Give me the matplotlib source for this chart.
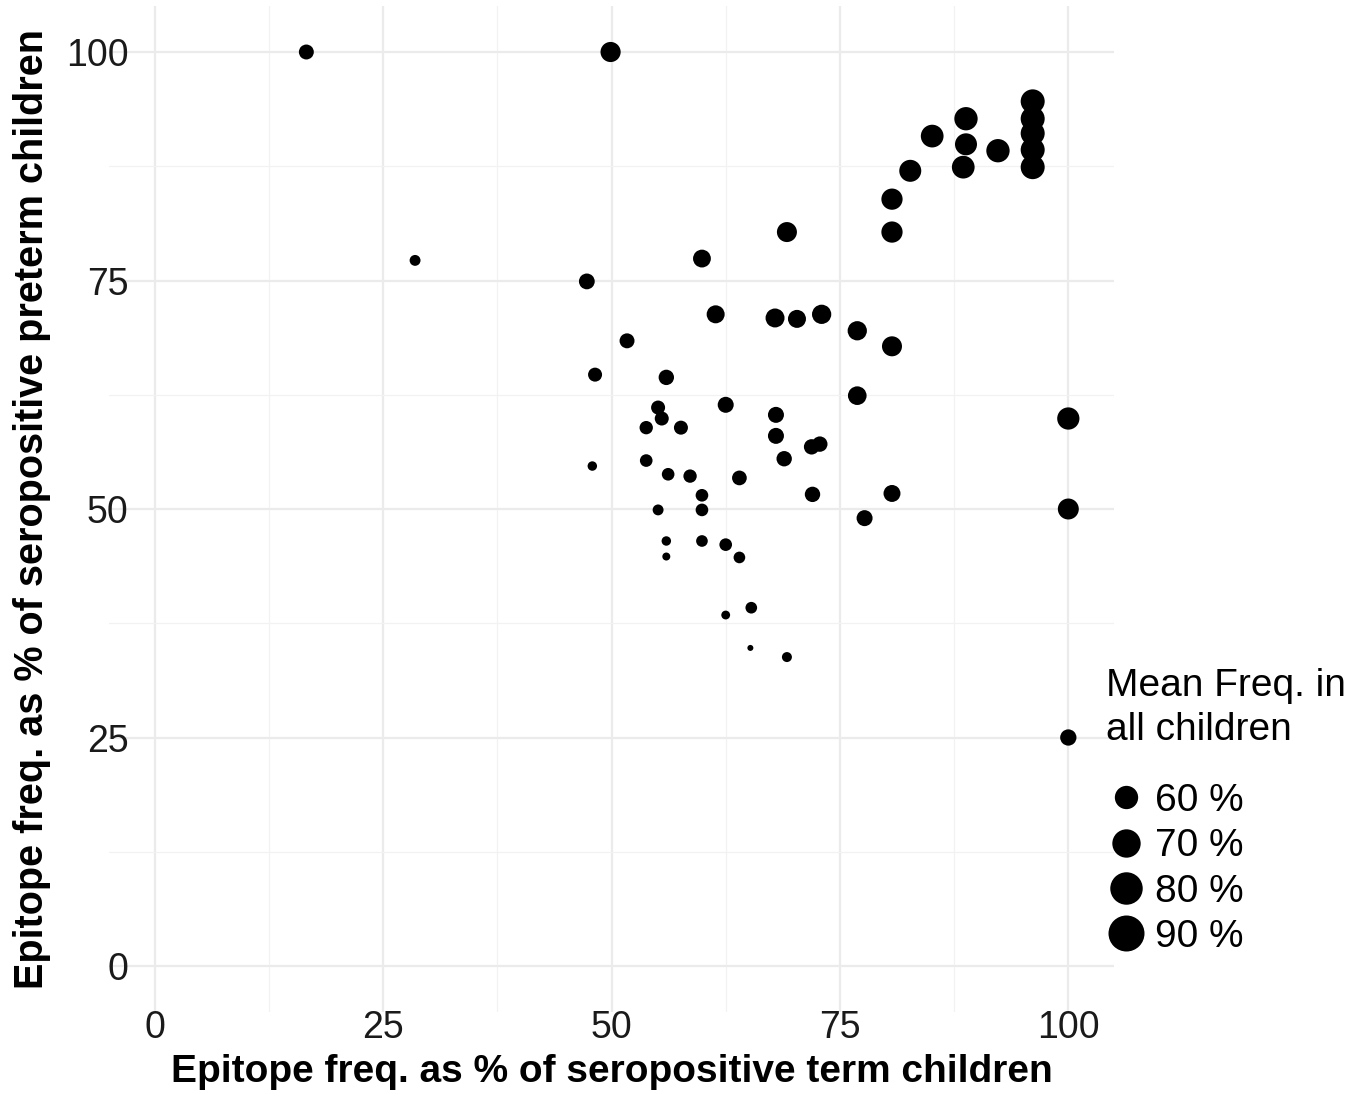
import numpy as np
import matplotlib
matplotlib.use("Agg")
import matplotlib.pyplot as plt
from matplotlib.lines import Line2D

plt.rcParams['font.family'] = ['Liberation Sans', 'DejaVu Sans']

# ---- data ----
term_pct = [16.6, 28.5, 47.3, 49.9, 59.9, 69.2, 100.0, 100.0, 100.0,
            61.4, 51.7, 67.9, 70.3, 73.0, 76.9, 80.7, 48.2, 56.0, 76.9,
            55.1, 55.5, 62.5, 53.8, 57.6, 68.0, 68.0, 71.9, 72.8, 68.9,
            47.9, 53.8, 56.2, 58.6, 64.0, 59.9, 72.0, 80.7, 55.1, 59.9,
            77.7, 56.0, 59.9, 62.5, 64.0, 56.0, 65.3, 62.5, 65.2, 69.2,
            96.1, 96.1, 96.1, 96.1, 96.1, 88.8, 88.8, 88.5, 92.3, 85.1,
            82.7, 80.7, 80.7]
preterm_pct = [100.0, 77.2, 74.9, 100.0, 77.4, 80.3, 59.9, 50.0, 25.0,
               71.3, 68.4, 70.9, 70.8, 71.3, 69.5, 67.8, 64.7, 64.4, 62.4,
               61.1, 59.9, 61.4, 58.9, 58.9, 60.3, 58.0, 56.8, 57.1, 55.5,
               54.7, 55.3, 53.8, 53.6, 53.4, 51.5, 51.6, 51.7, 49.9, 49.9,
               49.0, 46.5, 46.5, 46.1, 44.7, 44.8, 39.2, 38.4, 34.8, 33.8,
               94.6, 92.7, 91.1, 89.3, 87.4, 92.7, 89.9, 87.4, 89.2, 90.8,
               87.0, 83.9, 80.3]
mean_freq = [49.0, 46.2, 49.8, 55.0, 52.0, 54.8, 58.2, 56.2, 50.3,
             52.2, 49.0, 53.4, 52.2, 53.8, 53.8, 54.8, 48.2, 49.4, 53.0,
             48.2, 48.2, 50.0, 47.7, 48.2, 50.0, 50.0, 49.4, 49.4, 49.4,
             45.6, 47.2, 47.2, 47.7, 48.8, 47.2, 49.4, 51.0, 46.2, 47.2,
             50.0, 45.6, 46.6, 47.2, 46.6, 45.2, 46.6, 45.4, 45.0, 45.8,
             61.2, 61.2, 61.2, 61.2, 61.2, 60.0, 57.8, 59.0, 60.0, 59.0,
             57.8, 56.6, 56.6]
legend_breaks = [60, 70, 80, 90]
legend_labels = ["60 %", "70 %", "80 %", "90 %"]
legend_title = "Mean Freq. in\nall children"
x_ticks = [0, 25, 50, 75, 100]
y_ticks = [0, 25, 50, 75, 100]

DPI = 100
# size scale: diameter (px) = D_MIN + (D_MAX - D_MIN) * sqrt((v - V_LO)/(V_HI - V_LO))
D_MIN, D_MAX, V_LO, V_HI = 6.0, 36.0, 45.0, 90.0

def diam_pt(v):
    v = np.asarray(v, dtype=float)
    frac = np.clip((v - V_LO) / (V_HI - V_LO), 0, None)
    d_px = D_MIN + (D_MAX - D_MIN) * np.sqrt(frac)
    return d_px * 72.0 / DPI

W, H = 1365, 1094
fig = plt.figure(figsize=(W / DPI, H / DPI), dpi=DPI)
ax = fig.add_axes([109/W, 1 - 1011.7/H, (1114-109)/W, (1011.7-6.3)/H])

ax.scatter(term_pct, preterm_pct, s=diam_pt(mean_freq)**2, c='black',
           linewidths=0, zorder=3)

ax.set_xlim(-5, 105)
ax.set_ylim(-5, 105)
ax.set_xticks(x_ticks)
ax.set_yticks(y_ticks)
ax.set_xticks([12.5, 37.5, 62.5, 87.5], minor=True)
ax.set_yticks([12.5, 37.5, 62.5, 87.5], minor=True)
ax.grid(True, which='major', color='#EBEBEB', linewidth=1.6, zorder=0)
ax.grid(True, which='minor', color='#F2F2F2', linewidth=0.9, zorder=0)
for sp in ax.spines.values():
    sp.set_visible(False)
ax.tick_params(which='both', length=0)
ax.tick_params(axis='y', labelsize=27, labelcolor='#1a1a1a', pad=-14)
ax.tick_params(axis='x', labelsize=27, labelcolor='#1a1a1a', pad=-1)

ax.set_xlabel("Epitope freq. as % of seropositive term children",
              fontsize=28, fontweight='bold')
ax.set_ylabel("Epitope freq. as % of seropositive preterm children",
              fontsize=28.5, fontweight='bold')
ax.xaxis.set_label_coords(0.5, -0.042)
ax.yaxis.set_label_coords(-0.058, 0.5)

# legend title
fig.text(1106/W, 1 - 668/H, legend_title, fontsize=28, ha='left', va='top',
         linespacing=1.3)
handles = [Line2D([], [], marker='o', linestyle='', color='black',
                  markeredgewidth=0, markersize=float(diam_pt(b)))
           for b in legend_breaks]
leg = fig.legend(handles, legend_labels,
                 loc='upper left', bbox_to_anchor=(1106.5/W, 1 - 783/H),
                 frameon=False, fontsize=28, borderpad=0,
                 handlelength=1.0, handletextpad=0.25, labelspacing=0.24,
                 borderaxespad=0)

fig.savefig("out.png", dpi=DPI)
